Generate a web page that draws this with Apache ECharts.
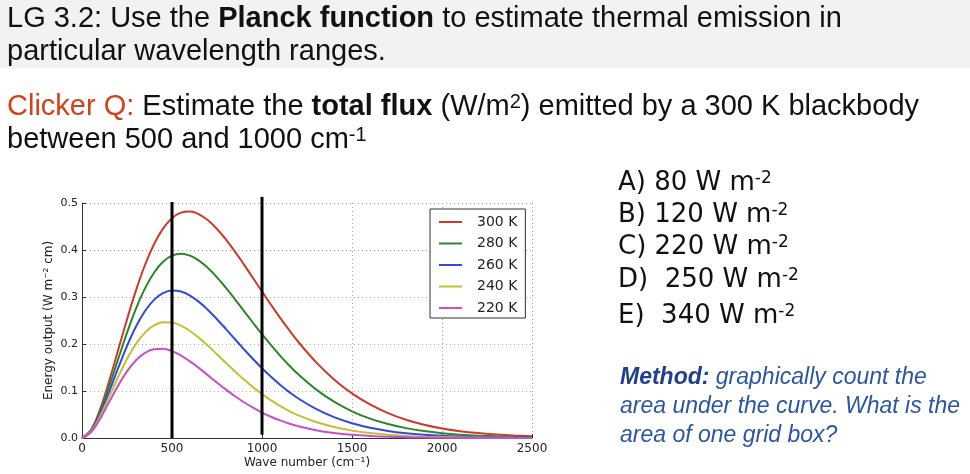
<!DOCTYPE html>
<html>
<head>
<meta charset="utf-8">
<title>Planck function</title>
<script src="https://cdn.jsdelivr.net/npm/echarts@6/dist/echarts.min.js"></script>
<style>
  html, body { margin: 0; padding: 0; background: #fff; }
  #planckChart { width: 970px; height: 474px; }
</style>
</head>
<body>
<div id="planckChart"></div>
<script>
  var waveNumbers = [0, 50, 100, 150, 200, 250, 300, 350, 400, 450, 500, 550, 600, 650, 700, 750, 800, 850, 900, 950,
    1000, 1050, 1100, 1150, 1200, 1300, 1400, 1500, 1600, 1700, 1800, 1900, 2000, 2100, 2200, 2300, 2400, 2500];

  // energy output (W m-2 cm) for each temperature
  var flux300 = [0, 0.0173, 0.0608, 0.1199, 0.1860, 0.2523, 0.3142, 0.3681, 0.4121, 0.4454, 0.4677, 0.4795, 0.4819,
    0.4760, 0.4632, 0.4448, 0.4222, 0.3966, 0.3690, 0.3405, 0.3117, 0.2835, 0.2561, 0.2300, 0.2053,
    0.1614, 0.1247, 0.0949, 0.0713, 0.0529, 0.0389, 0.0283, 0.0204, 0.0146, 0.0104, 0.0074, 0.0052, 0.0036];
  var flux280 = [0, 0.0160, 0.0557, 0.1087, 0.1668, 0.2237, 0.2752, 0.3183, 0.3516, 0.3748, 0.3879, 0.3920, 0.3880,
    0.3775, 0.3616, 0.3419, 0.3193, 0.2951, 0.2701, 0.2452, 0.2208, 0.1974, 0.1754, 0.1549, 0.1360,
    0.1034, 0.0772, 0.0568, 0.0412, 0.0296, 0.0210, 0.0148, 0.0103, 0.0071, 0.0049, 0.0034, 0.0023, 0.0015];
  var flux260 = [0, 0.0147, 0.0506, 0.0976, 0.1479, 0.1956, 0.2371, 0.2702, 0.2939, 0.3082, 0.3137, 0.3116, 0.3031,
    0.2896, 0.2724, 0.2527, 0.2317, 0.2101, 0.1887, 0.1680, 0.1484, 0.1302, 0.1134, 0.0982, 0.0846,
    0.0618, 0.0444, 0.0314, 0.0219, 0.0151, 0.0103, 0.0070, 0.0047, 0.0031, 0.0021, 0.0014, 0.0009, 0.0006];
  var flux240 = [0, 0.0134, 0.0456, 0.0866, 0.1292, 0.1682, 0.2004, 0.2243, 0.2395, 0.2463, 0.2457, 0.2391, 0.2277,
    0.2130, 0.1961, 0.1780, 0.1596, 0.1416, 0.1243, 0.1082, 0.0935, 0.0801, 0.0682, 0.0577, 0.0486,
    0.0339, 0.0233, 0.0157, 0.0105, 0.0069, 0.0045, 0.0029, 0.0019, 0.0012, 0.0008, 0.0005, 0.0003, 0.0002];
  var flux220 = [0, 0.0121, 0.0405, 0.0758, 0.1109, 0.1416, 0.1653, 0.1810, 0.1889, 0.1897, 0.1848, 0.1754, 0.1629,
    0.1486, 0.1333, 0.1178, 0.1029, 0.0889, 0.0760, 0.0644, 0.0541, 0.0452, 0.0374, 0.0308, 0.0253,
    0.0167, 0.0108, 0.0069, 0.0044, 0.0027, 0.0017, 0.0010, 0.0006, 0.0004, 0.0002, 0.0001, 0.0001, 0.0000];

  var tempNames = ['300 K', '280 K', '260 K', '240 K', '220 K'];
  var fluxList = [flux300, flux280, flux260, flux240, flux220];

  // the two black markers at 500 and 1000 cm-1
  var marker500 = [[500, 0], [500, 0.502]];
  var marker1000 = [[1000, 0.007], [1000, 0.513]];

  var lineColors = ['#cc3b2a', '#2a872a', '#3349df', '#c3c034', '#c84fc8'];

  var slideFont = 'Liberation Sans';
  var optFont = 'DejaVu Sans';
  var plotFont = 'DejaVu Sans';

  function tok(size, family, extra) {
    var s = { fontSize: size, fontFamily: family, fill: '#111' };
    for (var k in extra) s[k] = extra[k];
    return s;
  }

  var seriesList = [];
  for (var i = 0; i < fluxList.length; i++) {
    var pts = [];
    for (var j = 0; j < waveNumbers.length; j++) {
      pts.push([waveNumbers[j], fluxList[i][j]]);
    }
    seriesList.push({
      name: tempNames[i],
      type: 'line',
      data: pts,
      smooth: 0.4,
      symbol: 'none',
      lineStyle: { color: lineColors[i], width: 2 },
      itemStyle: { color: lineColors[i] },
      z: 3
    });
  }
  seriesList.push({
    type: 'line', data: marker500, symbol: 'none', clip: false, silent: true,
    lineStyle: { color: '#000', width: 3 }, z: 4
  });
  seriesList.push({
    type: 'line', data: marker1000, symbol: 'none', clip: false, silent: true,
    lineStyle: { color: '#000', width: 3 }, z: 4
  });

  var richSlide = {
    n: tok(29, slideFont, {}),
    b: tok(29, slideFont, { fontWeight: 'bold' }),
    r: tok(29, slideFont, { fill: '#d4401a' }),
    s: tok(20, slideFont, { verticalAlign: 'top' })
  };
  var richOpt = {
    n: tok(26, optFont, {}),
    s: tok(17, optFont, { verticalAlign: 'top' })
  };
  var richMethod = {
    b: tok(23, slideFont, { fontWeight: 'bold', fontStyle: 'italic', fill: '#1f3f8f' }),
    n: tok(23, slideFont, { fontStyle: 'italic', fill: '#2b56a0' })
  };

  function textEl(x, y, text, rich) {
    return {
      type: 'text', x: x, y: y, z: 10,
      style: { text: text, rich: rich, verticalAlign: 'middle', align: 'left' }
    };
  }

  var graphics = [
    { type: 'rect', shape: { x: 0, y: 0, width: 970, height: 68 }, style: { fill: '#f2f2f2' }, z: 0 },
    textEl(7, 19, '{n|LG 3.2: Use the }{b|Planck function}{n| to estimate thermal emission in}', richSlide),
    textEl(7, 52, '{n|particular wavelength ranges.}', richSlide),
    textEl(7, 107, '{r|Clicker Q:}{n| Estimate the }{b|total flux}{n| (W/m}{s|2}{n|) emitted by a 300 K blackbody}', richSlide),
    textEl(7, 140, '{n|between 500 and 1000 cm}{s|-1}', richSlide),
    textEl(618, 183, '{n|A) 80 W m}{s|-2}', richOpt),
    textEl(618, 215, '{n|B) 120 W m}{s|-2}', richOpt),
    textEl(618, 247, '{n|C) 220 W m}{s|-2}', richOpt),
    textEl(618, 280, '{n|D)  250 W m}{s|-2}', richOpt),
    textEl(618, 316, '{n|E)  340 W m}{s|-2}', richOpt),
    textEl(620, 378, '{b|Method:}{n| graphically count the}', richMethod),
    textEl(620, 407, '{n|area under the curve. What is the}', richMethod),
    textEl(620, 436, '{n|area of one grid box?}', richMethod)
  ];

  var chart = echarts.init(document.getElementById('planckChart'));
  chart.setOption({
    animation: false,
    backgroundColor: '#fff',
    grid: { left: 82, right: 438, top: 203, bottom: 36 },
    legend: {
      data: tempNames,
      orient: 'vertical',
      left: 430,
      top: 209,
      padding: [5, 8, 2, 9],
      icon: 'rect',
      itemWidth: 23,
      itemHeight: 2,
      itemGap: 5.5,
      backgroundColor: '#fff',
      borderColor: '#333',
      borderWidth: 1,
      borderRadius: 0,
      textStyle: { fontFamily: plotFont, fontSize: 14, color: '#222', lineHeight: 16, padding: [0, 0, 0, 10] }
    },
    xAxis: {
      type: 'value',
      min: 0,
      max: 2500,
      interval: 500,
      name: 'Wave number (cm⁻¹)',
      nameLocation: 'middle',
      nameGap: 19,
      nameTextStyle: { fontFamily: plotFont, fontSize: 12, color: '#222' },
      axisLine: { show: true, lineStyle: { color: '#333', width: 1 } },
      axisTick: { show: true, inside: true, length: 4, lineStyle: { color: '#333' } },
      axisLabel: {
        fontFamily: plotFont, fontSize: 12, color: '#222', margin: 5,
        formatter: function (v) { return String(v); }
      },
      splitLine: { show: true, lineStyle: { color: '#aaa', type: [1, 3], width: 1 } }
    },
    yAxis: {
      type: 'value',
      min: 0,
      max: 0.5,
      interval: 0.1,
      name: 'Energy output (W m⁻² cm)',
      nameLocation: 'middle',
      nameGap: 27,
      nameTextStyle: { fontFamily: plotFont, fontSize: 12, color: '#222' },
      axisLine: { show: true, lineStyle: { color: '#333', width: 1 } },
      axisTick: { show: true, inside: true, length: 4, lineStyle: { color: '#333' } },
      axisLabel: {
        fontFamily: plotFont, fontSize: 11, color: '#222', margin: 4,
        formatter: function (v) { return v.toFixed(1); }
      },
      splitLine: { show: true, lineStyle: { color: '#aaa', type: [1, 3], width: 1 } }
    },
    series: seriesList,
    graphic: graphics
  });
</script>
</body>
</html>
